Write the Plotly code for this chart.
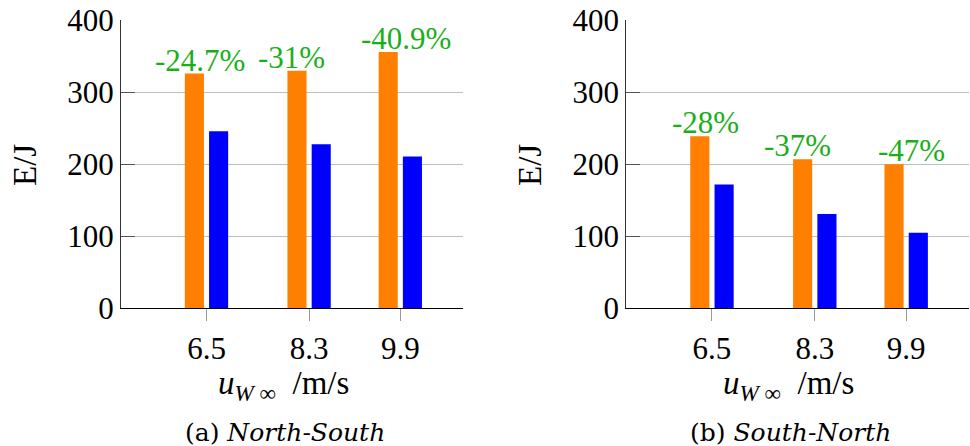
import plotly.graph_objects as go

speeds = [6.5, 8.3, 9.9]
tick_labels = ["6.5", "8.3", "9.9"]
ns_orange = [326, 330, 356]
ns_blue = [246, 228, 211]
ns_labels = ["-24.7%", "-31%", "-40.9%"]
sn_orange = [239, 207, 200]
sn_blue = [172, 131, 105]
sn_labels = ["-28%", "-37%", "-47%"]
label_x_ns = [6.38, 7.99, 10.0]
label_x_sn = [6.38, 7.99, 9.99]
captions = ["(a) <i>North-South</i>", "(b) <i>South-North</i>"]
x_title = "<i>u</i><sub><i>W</i> ∞</sub>  /m/s"
y_title = "E/J"

FONT = "Liberation Serif"
FONT2 = "DejaVu Serif"
ORANGE = "#ff7f00"
BLUE = "#0000ff"
GREEN = "#1aaf1a"

fig = go.Figure()

panels = [
    (ns_orange, ns_blue, ns_labels, label_x_ns, "x", "y"),
    (sn_orange, sn_blue, sn_labels, label_x_sn, "x2", "y2"),
]

for orange, blue, labels, lx, xa, ya in panels:
    fig.add_trace(go.Bar(x=speeds, y=orange, offset=-0.38, width=0.335,
                         marker=dict(color=ORANGE, line=dict(width=0)),
                         xaxis=xa, yaxis=ya, showlegend=False, hoverinfo="skip"))
    fig.add_trace(go.Bar(x=speeds, y=blue, offset=0.045, width=0.335,
                         marker=dict(color=BLUE, line=dict(width=0)),
                         xaxis=xa, yaxis=ya, showlegend=False, hoverinfo="skip"))
    for xv, yv, t in zip(lx, orange, labels):
        fig.add_annotation(x=xv, y=yv, text=t, xref=xa, yref=ya,
                           showarrow=False, yanchor="bottom", xanchor="center",
                           yshift=-6,
                           font=dict(family=FONT, size=31, color=GREEN))

xcommon = dict(range=[5, 11], tickvals=speeds, ticktext=tick_labels,
               showgrid=False, zeroline=False, showline=True, linecolor="black",
               linewidth=1.3, ticks="outside", ticklen=12, tickcolor="#999999",
               tickwidth=1.3, automargin=False,
               tickfont=dict(family=FONT, size=31, color="black"))
ycommon = dict(range=[0, 400], tickvals=[0, 100, 200, 300, 400],
               showgrid=True, gridcolor="#bdbdbd", gridwidth=1,
               zeroline=False, showline=True, linecolor="#333333", linewidth=1.3,
               ticks="inside", ticklen=14, tickcolor="#555555", tickwidth=1,
               automargin=False,
               tickfont=dict(family=FONT, size=31, color="black"))

fig.update_layout(
    width=970, height=446,
    margin=dict(l=0, r=0, t=0, b=0, autoexpand=False),
    paper_bgcolor="white", plot_bgcolor="white",
    barmode="overlay",
    font=dict(family=FONT),
    xaxis=dict(domain=[121/970, 463/970], anchor="y", **xcommon),
    yaxis=dict(domain=[(446-308.3)/446, (446-20.3)/446], anchor="x", **ycommon),
    xaxis2=dict(domain=[626.3/970, 969/970], anchor="y2", **xcommon),
    yaxis2=dict(domain=[(446-308.3)/446, (446-20.3)/446], anchor="x2", **ycommon),
)

for cx, cap in zip([285/970, 790/970], captions):
    fig.add_annotation(x=cx, y=(446-432)/446, xref="paper", yref="paper",
                       text=cap, showarrow=False, xanchor="center", yanchor="middle",
                       font=dict(family=FONT2, size=25, color="black"))

for cx in [283/970, 788/970]:
    fig.add_annotation(x=cx, y=(446-385)/446, xref="paper", yref="paper",
                       text=x_title, showarrow=False, xanchor="center", yanchor="middle",
                       font=dict(family=FONT, size=33, color="black"))

for cx in [25/970, 530/970]:
    fig.add_annotation(x=cx, y=(446-165)/446, xref="paper", yref="paper",
                       text=y_title, showarrow=False, xanchor="center", yanchor="middle",
                       textangle=-90,
                       font=dict(family=FONT, size=33, color="black"))

fig.write_html("out.html", post_script="document.body.style.margin='0px';",
               config={"displayModeBar": False})
